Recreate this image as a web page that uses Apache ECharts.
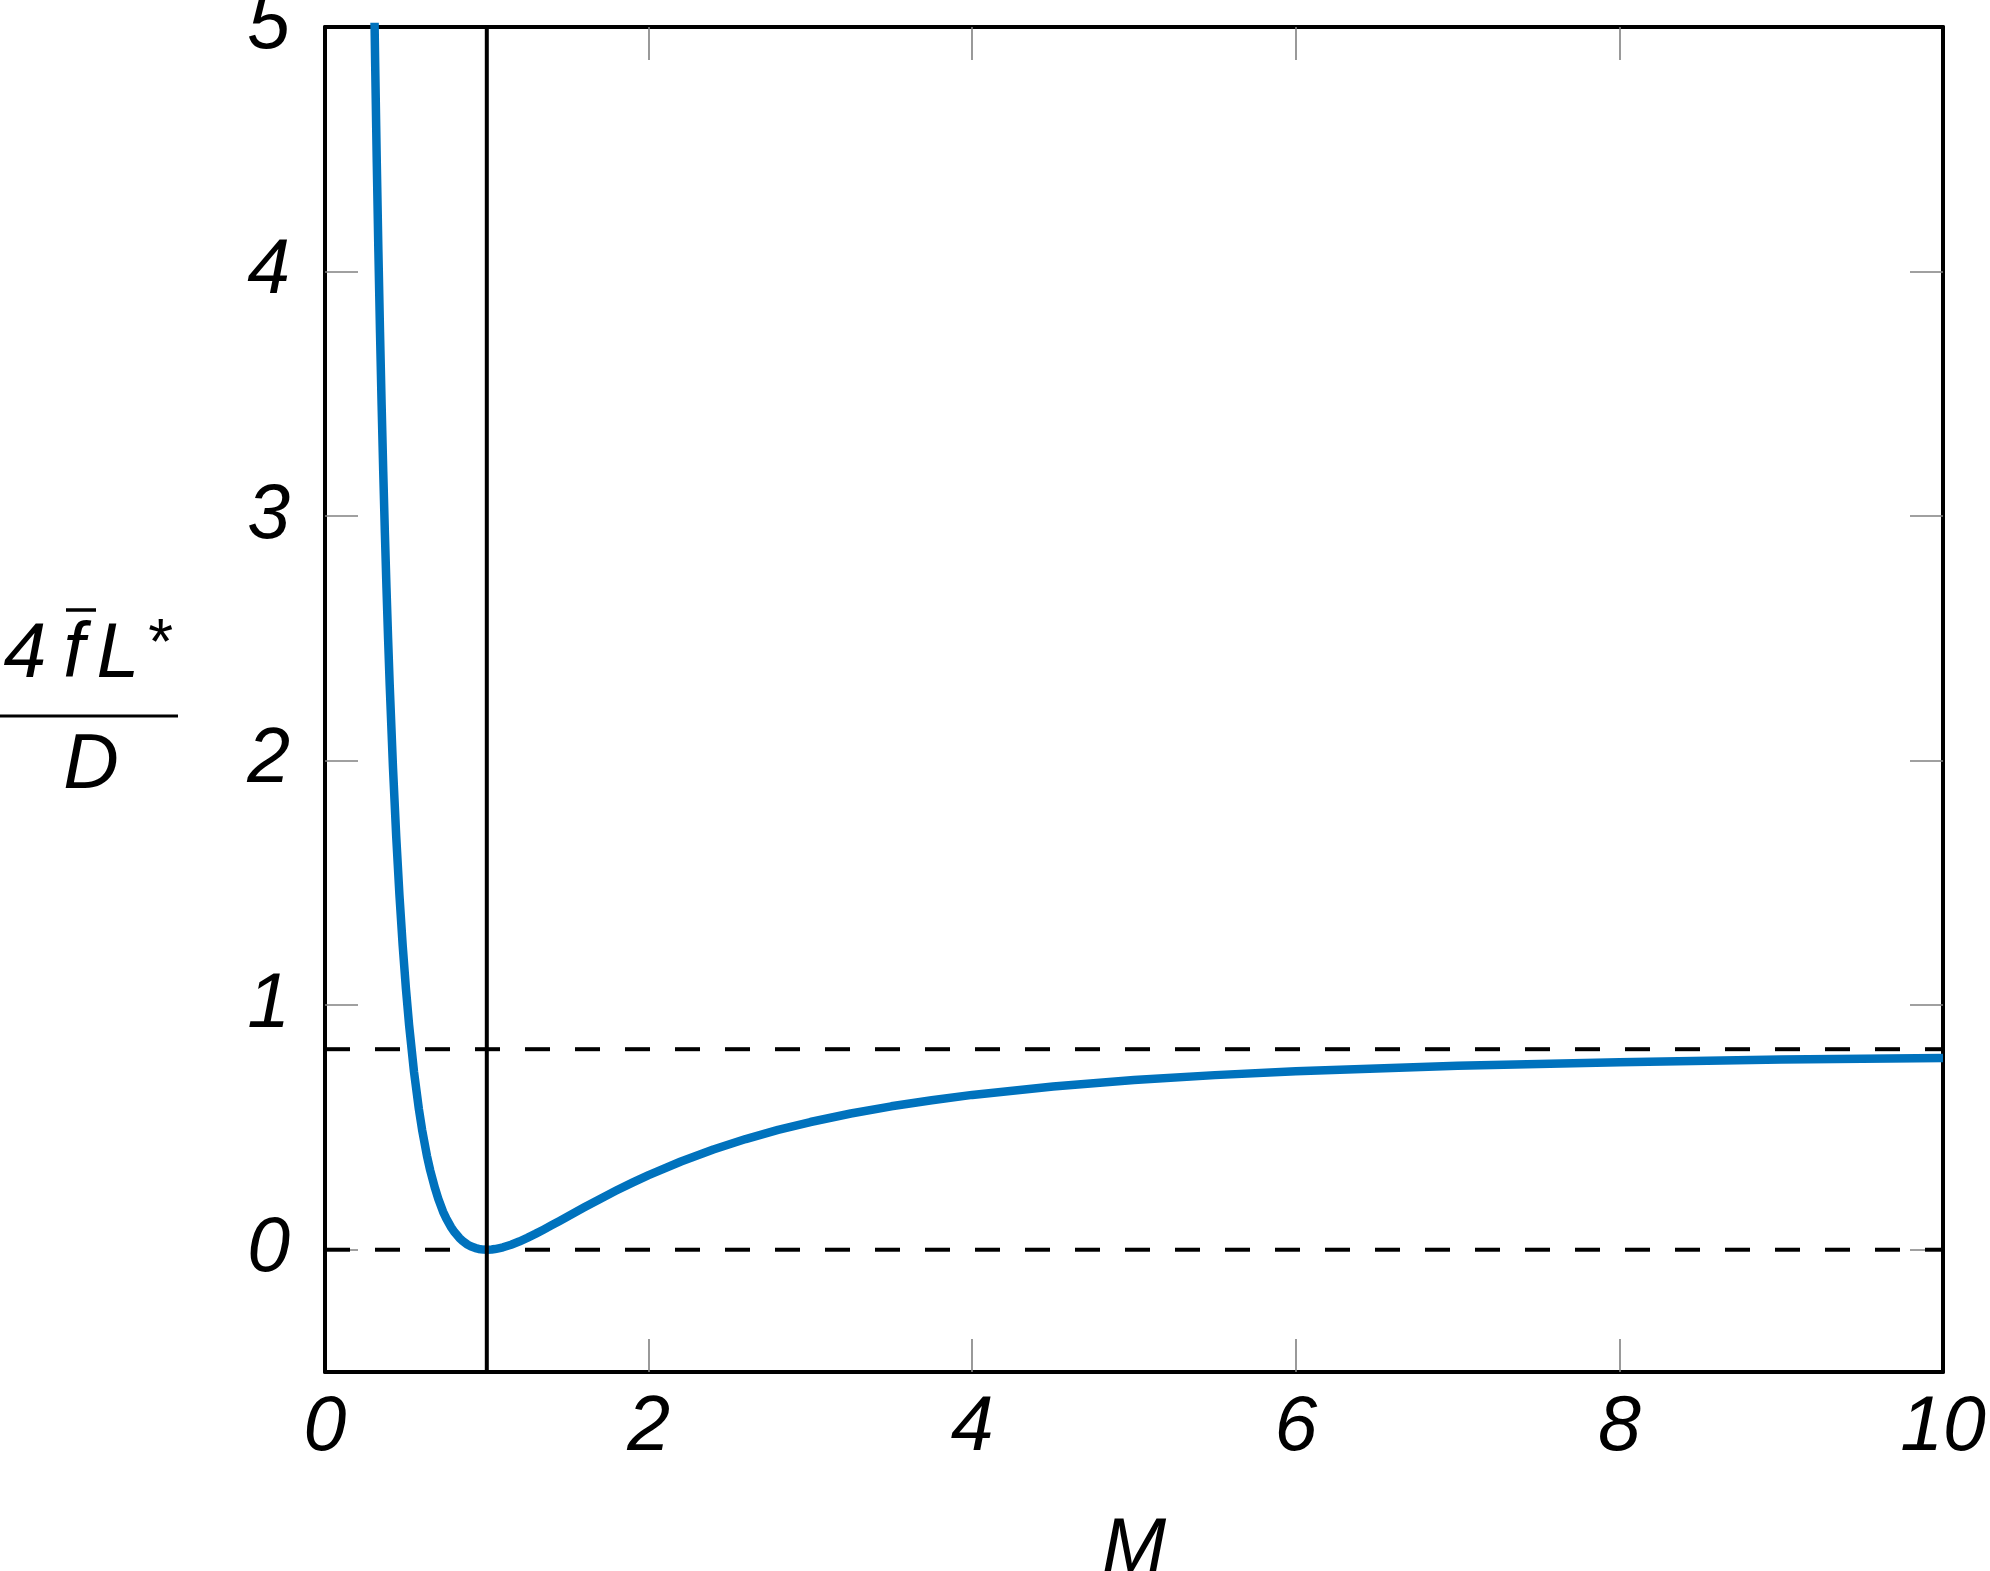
<!DOCTYPE html>
<html>
<head>
<meta charset="utf-8">
<script src="https://cdn.jsdelivr.net/npm/echarts@6/dist/echarts.min.js"></script>
<style>
html,body{margin:0;padding:0;background:#fff;}
#chart{width:1990px;height:1571px;}
</style>
</head>
<body>
<div id="chart"></div>
<script>
// Mach number samples
const machValues = [0.30,0.31,0.32,0.33,0.34,0.35,0.36,0.37,0.38,0.39,0.40,0.42,0.44,0.46,0.48,0.50,0.52,0.55,0.58,0.60,0.63,0.65,0.68,0.70,0.73,0.75,0.78,0.80,0.83,0.85,0.88,0.90,0.93,0.95,0.98,1.00,1.03,1.05,1.08,1.10,1.15,1.20,1.25,1.30,1.35,1.40,1.45,1.50,1.60,1.70,1.80,1.90,2.00,2.20,2.40,2.60,2.80,3.00,3.25,3.50,3.75,4.00,4.50,5.00,5.50,6.00,7.00,8.00,9.00,10.00];
// 4 f L* / D values at those Mach numbers
const frictionValues = [5.299,4.851,4.447,4.082,3.752,3.453,3.180,2.932,2.705,2.498,2.308,1.974,1.692,1.451,1.245,1.069,0.917,0.728,0.576,0.491,0.384,0.325,0.251,0.208,0.155,0.127,0.0917,0.0723,0.0486,0.0363,0.0214,0.0145,0.0068,0.0033,0.0005,0.0,0.0009,0.0027,0.0069,0.0099,0.0206,0.0336,0.0486,0.0648,0.0820,0.0997,0.1178,0.1361,0.1724,0.2078,0.2419,0.2743,0.3050,0.3609,0.4099,0.4526,0.4898,0.5222,0.5570,0.5864,0.6115,0.6331,0.6676,0.6938,0.7140,0.7295,0.7520,0.7671,0.7776,0.7844];
// reference lines
const asymptoteValue = 0.82;
const zeroValue = 0;
const sonicMach = 1;
// tick labels
const xTickValues = [0,2,4,6,8,10];
const xInnerTicks = [2,4,6,8];
const yTickValues = [0,1,2,3,4,5];
const yInnerTicks = [0,1,2,3,4];

const X_MIN = 0, X_MAX = 10, Y_MIN = -0.5, Y_MAX = 5;

const curveData = machValues.map((m,i)=>[m, frictionValues[i]]);

const FONT = '"Liberation Sans", "DejaVu Sans", sans-serif';
const labelStyle = {fontFamily: FONT, fontStyle:'italic', fontSize:77, color:'#000'};
const axisLineStyle = {show:true, onZero:false, lineStyle:{color:'#000', width:4}};
const tickStyle = {show:true, inside:true, length:33, lineStyle:{color:'#808080', width:1.6}};

const chart = echarts.init(document.getElementById('chart'), null, {renderer:'canvas'});
chart.setOption({
  animation:false,
  backgroundColor:'#fff',
  grid:{left:325, right:47, top:27, bottom:199, containLabel:false, outerBoundsMode:'none'},
  xAxis:[
    {type:'value', min:X_MIN, max:X_MAX, position:'bottom',
     axisLine:axisLineStyle,
     axisTick:Object.assign({customValues:xInnerTicks}, tickStyle),
     axisLabel:Object.assign({customValues:xTickValues, margin:18, showMinLabel:true, showMaxLabel:true}, labelStyle),
     splitLine:{show:false},
     name:'M', nameLocation:'middle', nameGap:140,
     nameTextStyle:{fontFamily:FONT, fontStyle:'italic', fontSize:77, color:'#000'}},
    {type:'value', min:X_MIN, max:X_MAX, position:'top',
     axisLine:axisLineStyle,
     axisTick:Object.assign({customValues:xInnerTicks}, tickStyle),
     axisLabel:{show:false}, splitLine:{show:false}}
  ],
  yAxis:[
    {type:'value', min:Y_MIN, max:Y_MAX, position:'left',
     axisLine:axisLineStyle,
     axisTick:Object.assign({customValues:yInnerTicks}, tickStyle),
     axisLabel:Object.assign({customValues:yTickValues, margin:35, padding:[12,0,0,0], showMinLabel:true, showMaxLabel:true}, labelStyle),
     splitLine:{show:false}},
    {type:'value', min:Y_MIN, max:Y_MAX, position:'right',
     axisLine:axisLineStyle,
     axisTick:Object.assign({customValues:yInnerTicks}, tickStyle),
     axisLabel:{show:false}, splitLine:{show:false}}
  ],
  series:[
    {
      type:'line', data:[[X_MIN,zeroValue],[X_MAX,zeroValue]], showSymbol:false, symbol:'none', silent:true,
      lineStyle:{color:'#000', width:4, type:[25,25]}, z:2
    },
    {
      type:'line', data:[[X_MIN,asymptoteValue],[X_MAX,asymptoteValue]], showSymbol:false, symbol:'none', silent:true,
      lineStyle:{color:'#000', width:4, type:[25,25]}, z:2
    },
    {
      type:'line', data:curveData, showSymbol:false, symbol:'none',
      smooth:false, clip:true, sampling:null,
      lineStyle:{color:'#0072BD', width:8.5, join:'round', cap:'butt'},
      z:3
    },
    {
      type:'line', data:[[sonicMach,Y_MIN],[sonicMach,Y_MAX]], showSymbol:false, symbol:'none', silent:true,
      lineStyle:{color:'#000', width:4}, z:4
    }
  ],
  graphic:[
    {type:'text', style:{text:'4', x:25, y:656, font:'italic 77px '+FONT, fill:'#000', textAlign:'center', textVerticalAlign:'middle'}},
    {type:'text', style:{text:'f', x:74, y:656, font:'italic 77px '+FONT, fill:'#000', textAlign:'center', textVerticalAlign:'middle'}},
    {type:'text', style:{text:'L', x:118, y:656, font:'italic 77px '+FONT, fill:'#000', textAlign:'center', textVerticalAlign:'middle'}},
    {type:'text', style:{text:'*', x:158, y:646, font:'italic 64px '+FONT, fill:'#000', textAlign:'center', textVerticalAlign:'middle'}},
    {type:'line', shape:{x1:66, y1:610, x2:96, y2:610}, style:{stroke:'#000', lineWidth:3.5}},
    {type:'line', shape:{x1:0, y1:716, x2:178, y2:716}, style:{stroke:'#000', lineWidth:3}},
    {type:'text', style:{text:'D', x:91, y:767, font:'italic 77px '+FONT, fill:'#000', textAlign:'center', textVerticalAlign:'middle'}}
  ]
});
</script>
</body>
</html>
